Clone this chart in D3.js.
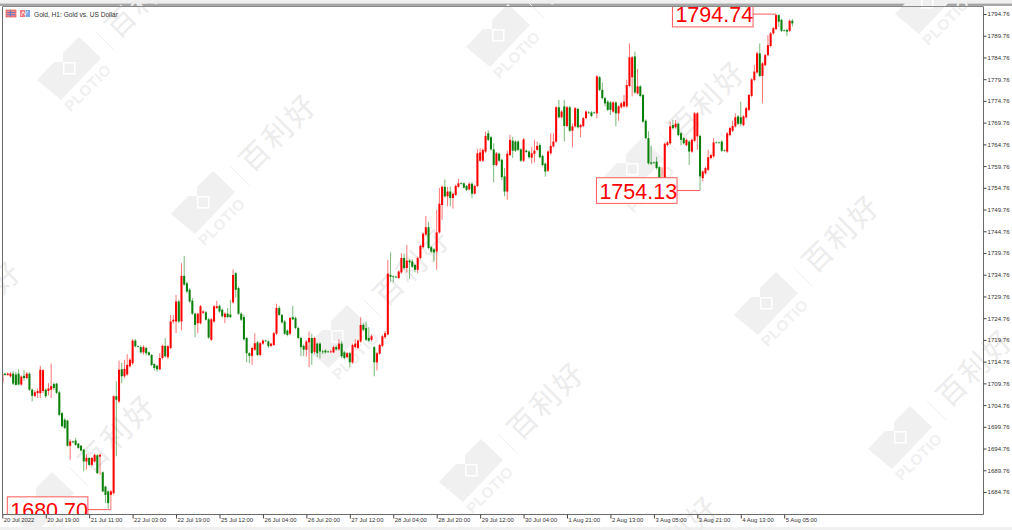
<!DOCTYPE html>
<html><head><meta charset="utf-8">
<style>html,body{margin:0;padding:0;background:#fff;overflow:hidden}svg{display:block}</style>
<script src="https://cdnjs.cloudflare.com/ajax/libs/d3/7.8.5/d3.min.js"></script>
</head><body><svg id="c" width="1012" height="530"></svg>
<script>
const opens = [
1710,1712,1711.7,1711.4,1712,1711.8,1712,1709.5,1711.5,1711,
1712,1708.3,1706.9,1707.5,1707.5,1708,1708.3,1708,1708.3,1709.6,
1709.7,1707.7,1702.9,1701.4,1701.2,1695.4,1696.4,1696.6,1695.9,1695.4,
1694.5,1691.8,1692.6,1691,1691.8,1693.2,1692.9,1689.3,1686,1684.9,
1684.1,1684.5,1706.8,1705.6,1713,1711.4,1711.8,1713.7,
1714.4,1719.6,1718.3,1718.1,1716.9,1717.9,1716.9,1716.3,1714.2,1713.8,
1713,1715.6,1718.4,1715.8,1717.9,1724,1724,1728.6,1724,1734.5,
1732.8,1731.3,1728.8,1725.8,1723.6,1723.6,1726,1726.1,1724.5,1719.8,
1724,1727.1,1727.6,1726.7,1725,1725.8,1725.6,1728.4,1735.1,1731.7,
1725.8,1725,1720.2,1716.7,1716.1,1717.5,1719.2,1716.3,1718.9,1719.6,
1719.4,1718.4,1718.6,1721.2,1727.1,1725.5,1724,1721.9,1721.2,1725,
1724.8,1722.5,1720.2,1718.4,1717.5,1719.2,1720.2,1717,1718.9,1718.9,
1717.1,1717.3,1717.1,1717,1716.9,1718.1,1717.6,1718.9,1716.9,1715.8,
1716.7,1714.6,1718.1,1717.9,1719.4,1723.2,1722.5,1720.2,1719.8,1718.1,
1714.6,1716.6,1718.4,1720.4,1721,
1734.7,1734.4,1734.3,1734,1735.3,1738.6,1736.3,1738,1737.8,1737,
1735.9,1738.6,1741.1,1744,1745.7,1741.1,1740.6,1740.1,1744.5,1750.8,
1755,1752.8,1753.9,1752.4,1753.1,1755,1755.8,1755.8,1755.2,1754.4,
1755.7,1753.4,1755.2,1761,1761,1763.1,1767.3,1766.4,1763.6,1760,
1762.6,1761.2,1757.4,1753.9,1762.3,1765.6,1765.4,1765.4,1763.6,1761,
1763.3,1763.1,1761.7,1762.6,1763.5,1764.6,1762.1,1760.3,1758.7,1762.7,
1764.3,1765.4,1773.3,1771,1773.5,1769,1773.3,1767.9,1768.9,1772.9,
1768.7,1769,1770.8,1772.1,1772.1,1772.1,1771.9,
1780.2,1777.3,1775.4,1774.6,1774.4,1772.3,1774.4,1771.9,1773.3,1773.5,
1773.5,1778.2,1780.2,1785,1776.5,1778.1,1776.1,1770.2,1766.2,1760.6,
1760.6,1760.8,1759.5,1756.2,1755.8,1764.6,1765,1769.2,1768.7,1769.5,
1767.3,1766.2,1764.6,1765.4,1763.1,1765.6,1766.6,1766.7,1757,1758.1,
1758.9,1761.6,1762,1765.2,1765.2,1765.4,1763.4,1763.1,1766.9,1767.9,
1768.9,1771.2,1771,1769.2,1771,1772.7,1775.9,1779.6,1781.3,1785.7,
1780.5,1783,1785.3,1787.4,1790.3,1791.3,1794.5,1793.4,1791,1791.1,
1790.9,1793.2];
const highs = [
1712.1,1712.2,1712.3,1712.4,1712.6,1712.4,1713,1711.6,1712.8,1712.4,
1712.3,1708.6,1708.2,1708.6,1713.8,1713,1708.6,1709.8,1714.3,1710,
1709.9,1708,1703.2,1701.8,1701.4,1696.9,1696.6,1697.2,1696.1,1695.6,
1694.7,1693.5,1692.8,1692.8,1693.6,1693.5,1693.6,1689.5,1686.2,1685.2,
1685.2,1707,1710.2,1715,1714.5,1715.2,1716.5,1715.6,
1719.9,1720,1718.5,1718.5,1718.5,1718.2,1717.1,1716.5,1714.4,1714,
1716.7,1718.7,1720.2,1718.6,1725.5,1725.5,1730.1,1729,1737.4,1739.1,
1733.2,1731.7,1729.4,1726,1726,1727.8,1726.6,1726.4,1724.8,1724.8,
1727.8,1728.8,1727.9,1727,1726.1,1727.1,1729,1736,1735.4,1732,
1726.1,1725.6,1720.4,1717,1718.2,1721.3,1719.5,1719.3,1719.9,1719.8,
1719.7,1719.1,1721.6,1728.1,1727.6,1725.8,1724.3,1722.2,1725,1727.6,
1725.1,1722.8,1720.5,1718.7,1719.7,1721.7,1721.2,1720.5,1719.2,1719.2,
1717.5,1717.6,1717.3,1717.4,1718.4,1718.5,1719.9,1719.5,1717.2,1717,
1717,1718.9,1719.9,1719.9,1725,1723.6,1724,1722.7,1721,1718.4,
1717,1718.9,1720.9,1721.8,1738.2,
1739.9,1734.6,1734.5,1735.8,1739.7,1739.6,1741.6,1738.3,1738.3,1737.3,
1738.9,1741.7,1744.5,1748.3,1746.9,1741.4,1740.9,1749.7,1754.7,1755.3,
1756.7,1755,1755,1753.7,1755.5,1756.8,1756,1756,1755.4,1756,
1756,1755.5,1763.7,1763.9,1763.8,1767.7,1768,1766.7,1765,1763,
1762.9,1761.5,1759.3,1763.3,1767,1766.5,1765.7,1765.7,1763.9,1766.2,
1763.6,1763.4,1764.1,1765.8,1765.4,1765,1762.4,1760.6,1763.4,1767.3,
1767.3,1773.6,1775,1772.6,1775,1773.6,1773.6,1769.6,1773.4,1773.2,
1769.5,1771.1,1772.6,1772.4,1772.4,1772.3,1780.7,
1780.5,1779,1775.7,1774.9,1774.7,1774.7,1774.7,1773.8,1774.5,1776.1,
1779.6,1788,1785.1,1786.1,1782.1,1778.4,1776.4,1770.5,1767.8,1764.5,
1760.8,1761.9,1759.8,1759.5,1765.2,1765.5,1770,1770.4,1770.4,1769.8,
1767.6,1766.5,1766.1,1765.7,1766.1,1772.2,1772.2,1767,1758.8,1759.6,
1763.5,1762.6,1766.2,1765.4,1765.4,1765.7,1763.6,1767.6,1768.8,1770.2,
1771.9,1771.5,1774.6,1771.5,1773.4,1776.4,1780,1783,1786.1,1788,
1783.7,1785.6,1789.9,1790.6,1791.8,1794.74,1794.7,1793.7,1791.2,1791.4,
1793.5,1793.6];
const lows = [
1709.9,1711.5,1711.5,1711.1,1709.4,1709.3,1709.3,1709.2,1710.4,1710.7,
1708,1705.6,1706.6,1706.4,1706.4,1707.5,1706.4,1707,1706.4,1708.2,
1707.3,1702.2,1699.6,1699.2,1695.2,1692.2,1696,1695.4,1694.7,1694.1,
1689.5,1689.9,1690.8,1690.6,1691.5,1688.9,1688.7,1684.7,1682.2,1680.9,
1680.7,1684.2,1693,1705.2,1709.8,1711,1711.5,1713.4,
1714,1718,1718,1716.6,1716.4,1716.2,1716,1713.7,1712.7,1712.4,
1712.8,1715.3,1715.7,1715.3,1717.6,1723.5,1721.3,1723.6,1722,1732.2,
1730.5,1728.3,1725.5,1720.4,1721.3,1723.3,1725.7,1724.2,1720,1719.5,
1723.7,1726.9,1726,1724.9,1723.6,1724.8,1724.8,1728.1,1729.5,1725.5,
1724.1,1719.6,1714.6,1714.4,1714,1717.2,1716,1716,1718.6,1719.3,
1717.9,1718.1,1718.4,1720.9,1725.3,1723.5,1720.9,1720.6,1720.9,1724.3,
1722.2,1719.9,1716,1716,1715.9,1713.5,1714,1716.5,1715.8,1715.5,
1716.5,1716.6,1716.8,1716.7,1716.7,1717.3,1717.3,1715.6,1715.3,1715.5,
1713.5,1714.3,1717.8,1717.6,1719.1,1721.8,1719.5,1719.3,1719.4,1711.4,
1712.7,1716.3,1718.1,1720,1720.8,
1733.2,1733,1734,1733.8,1735,1736,1735.3,1733.8,1736.3,1735.3,
1735.1,1738.3,1740.8,1743.7,1740.6,1739.8,1737.8,1735.9,1744.2,1747.4,
1752.5,1750.5,1750.5,1750,1752.9,1754.8,1755.5,1754.6,1754,1754.2,
1752.4,1753.2,1754.9,1760.7,1760.7,1762.8,1765.5,1763.3,1756,1759.7,
1760.7,1756.5,1752.8,1752,1762,1761.6,1763,1763.2,1760.7,1760.7,
1762.8,1761.5,1760.3,1760.6,1763.2,1761.5,1759.7,1757.3,1758.4,1762.4,
1764,1765.1,1770.7,1770.7,1765.4,1768.7,1767.6,1764.1,1768.6,1768.4,
1766.4,1768.7,1770.5,1771.8,1771,1771.8,1770.8,
1777,1775.1,1773.5,1772.4,1771.5,1772,1768.9,1770.2,1773,1773.2,
1773.2,1777.9,1775.8,1776.4,1776.2,1775.6,1769.7,1765.9,1760.1,1760,
1760.3,1759,1755.8,1755.9,1755.5,1764.3,1764.7,1768.2,1768.4,1766.6,
1764.5,1764.7,1764.3,1760,1762.8,1765.3,1763.5,1754.13,1756.2,1757.8,
1758.6,1761.3,1761.7,1765,1765,1763,1763.1,1762.8,1766.6,1767.6,
1768.6,1769.2,1768.9,1768.9,1770.7,1772.4,1775.6,1779.3,1781,1780.2,
1774.2,1782.7,1785,1787.1,1790,1791,1791.8,1790.6,1790.7,1789.7,
1790.6,1791.9];
const closes = [
1712,1711.7,1712,1712,1709.7,1709.4,1709.5,1711.3,1711,1712,
1708.3,1706.9,1707.7,1708,1712.9,1712.8,1706.8,1708.6,1709.1,1708.7,
1707.6,1702.5,1699.9,1699.5,1695.4,1696.4,1696.2,1695.6,1694.9,1694.3,
1691.8,1692.6,1691,1692.6,1693.3,1689.1,1693.3,1684.9,1684.1,1682.2,
1684.9,1706.8,1706,1712.9,1711.4,1713.1,1714,1715.2,
1719.6,1718.3,1718.2,1716.9,1718.1,1716.7,1716.3,1714,1713.3,1713,
1715.6,1718.4,1716,1718.3,1724,1724.4,1728.6,1724,1734.5,1732.5,
1730.9,1728.6,1725.8,1723.2,1725.8,1727.5,1726.3,1724.4,1720.3,1724.5,
1727.5,1727.5,1726.3,1725.2,1725.8,1725,1725,1734.7,1731.3,1725.8,
1724.4,1719.9,1716.7,1716.1,1717.9,1719,1716.3,1719,1719.6,1719.5,
1718.3,1718.9,1721.3,1727.1,1725.5,1723.8,1721.2,1720.9,1724.8,1724.5,
1722.5,1720.2,1718.1,1717.5,1719.4,1720.2,1716.7,1720.2,1716.7,1717.1,
1717,1716.9,1717,1717.1,1718.1,1717.6,1718.9,1716,1715.6,1716.7,
1714.6,1718.6,1718.9,1719.6,1723.2,1722.1,1719.8,1719.6,1720.6,1714.6,
1716.7,1718.6,1720.6,1721.3,1735,
1734.3,1734.2,1734.2,1735.5,1738.6,1736.3,1738,1737.6,1736.6,1735.9,
1738.6,1741.4,1744.2,1745.7,1740.9,1740.1,1739.9,1744.5,1751.1,1755,
1752.8,1753.9,1752.4,1753.4,1755.2,1755.8,1755.7,1754.8,1754.3,1755.7,
1753.4,1755.2,1762.7,1762.9,1763.5,1766.7,1765.8,1763.6,1760,1762.7,
1761,1757.2,1753.9,1762.6,1765.8,1763.3,1763.3,1763.5,1761,1765.9,
1763,1761.8,1762.7,1763.3,1764.4,1761.8,1760,1758.5,1763.1,1764.4,
1765.4,1773.3,1771,1772.3,1769,1773.3,1767.9,1768.9,1773.1,1768.7,
1769.2,1770.8,1772.3,1772,1771.3,1772,1780.4,
1777.3,1775.4,1774.2,1772.7,1772.7,1774.4,1771.9,1773.5,1774.2,1774.6,
1778.4,1784.8,1784.8,1776.7,1778.1,1775.9,1770,1766.2,1760.4,1760.3,
1760.5,1759.3,1756.2,1757,1764.9,1765.2,1768.9,1768.5,1769.5,1766.9,
1765.8,1765,1765.8,1763.1,1765.8,1771.9,1771.9,1757.4,1758.5,1759.3,
1761.8,1762.3,1765.2,1765.1,1765.1,1763.3,1763.3,1767.3,1768.5,1769,
1771,1769.5,1769.5,1771.2,1773.1,1776.1,1779.7,1781.5,1785.7,1780.5,
1783.4,1785.3,1787.6,1790.3,1791.5,1794.5,1793,1790.9,1790.9,1790.7,
1793.2,1792.6];
const timeLabels = ["20 Jul 2022","20 Jul 19:00","21 Jul 11:00","22 Jul 03:00","22 Jul 19:00","25 Jul 12:00","26 Jul 04:00","26 Jul 20:00","27 Jul 12:00","28 Jul 04:00","28 Jul 20:00","29 Jul 12:00","30 Jul 04:00","1 Aug 21:00","2 Aug 13:00","3 Aug 05:00","3 Aug 21:00","4 Aug 13:00","5 Aug 05:00"];
const timeTickIndex = timeLabels.map((_, k) => k * 16);
const priceTicks = ["1794.76","1789.76","1784.76","1779.76","1774.76","1769.76","1764.76","1759.76","1754.76","1749.76","1744.76","1739.76","1734.76","1729.76","1724.76","1719.76","1714.76","1709.76","1704.76","1699.76","1694.76","1689.76","1684.76"];
const title = "Gold, H1:  Gold vs. US Dollar";
const markIndex = [285, 257, 40];
const markPrice = [1794.74, 1754.13, 1680.70];
const markText = ["1794.74", "1754.13", "1680.70"];
const wmMain = "百利好", wmBrand = "PLOTIO";

const svg = d3.select("#c");
const frame = {l: 2.5, r: 983.5, t: 6.5, b: 514.5};
const x = d3.scaleLinear().domain([0, 288]).range([2.3, 784.2]);
const y = d3.scaleLinear().domain([1684.76, 1794.76]).range([492, 14]);
const UP = "#ff0000", DOWN = "#0a800a", BOX = "#ff5a5a";

svg.append("rect").attr("width", 1012).attr("height", 530).attr("fill", "#fff");
// window chrome
svg.append("rect").attr("x", 0).attr("y", 0).attr("width", 1012).attr("height", 3).attr("fill", "#f0f0f0");
svg.append("rect").attr("x", 0).attr("y", 3.5).attr("width", 1012).attr("height", 2.5).attr("fill", "#a6a6a6");
svg.append("rect").attr("x", 0).attr("y", 527).attr("width", 1012).attr("height", 3).attr("fill", "#f0f0f0");

const defs = svg.append("defs");
defs.append("clipPath").attr("id", "plot").append("rect")
  .attr("x", frame.l).attr("y", frame.t).attr("width", frame.r - frame.l).attr("height", frame.b - frame.t);

// watermark
const wm = svg.append("g");
const WM = "#f0f0f0";
const anchors = [];
for (let m = -2; m <= 2; m++) for (let n = -2; n <= 5; n++) {
  const ax = 203 + m * 429 + n * 134, ay = 202 - m * 33 + n * 134;
  if (ax > -120 && ax < 1110 && ay > -100 && ay < 620) anchors.push([ax, ay]);
}
const cell = wm.selectAll("g").data(anchors).join("g").attr("transform", d => `translate(${d[0]},${d[1]})`);
cell.append("path").attr("fill", WM).attr("d", "M10,-31 L32,-10 L-8,32 L-32,12 L-15,-6 L-6,-6 L-6,-15 Z");
cell.append("rect").attr("x", -6).attr("y", -6).attr("width", 12.5).attr("height", 12.5).attr("fill", "#fff");
cell.append("rect").attr("x", -4.5).attr("y", -4.5).attr("width", 9.5).attr("height", 9.5).attr("fill", WM);
cell.append("text").attr("transform", "translate(19,20) rotate(-45)").attr("text-anchor", "middle").attr("y", 5)
  .attr("font-family", "'Liberation Sans',sans-serif").attr("font-weight", 700).attr("font-size", 15).attr("letter-spacing", 0.6)
  .attr("fill", WM).text(wmBrand);
cell.append("line").attr("x1", 27).attr("y1", -36).attr("x2", 46).attr("y2", -17).attr("stroke", WM).attr("stroke-width", 1);
cell.append("text").attr("transform", "translate(75,-70) rotate(-45)").attr("text-anchor", "middle").attr("y", 11)
  .attr("font-family", "'Noto Sans CJK SC',sans-serif").attr("font-weight", 400).attr("font-size", 29).attr("letter-spacing", 3)
  .attr("fill", "#ececec").text(wmMain);

// candles
const plot = svg.append("g").attr("clip-path", "url(#plot)");
const idx = d3.range(opens.length);
const col = i => closes[i] >= opens[i] ? UP : DOWN;
plot.append("g").selectAll("line").data(idx).join("line")
  .attr("x1", x).attr("x2", x)
  .attr("y1", i => y(highs[i])).attr("y2", i => y(lows[i]))
  .attr("stroke", col).attr("stroke-width", 0.55);
plot.append("g").selectAll("rect").data(idx).join("rect")
  .attr("x", i => x(i) - 1.02).attr("width", 2.04)
  .attr("y", i => y(Math.max(opens[i], closes[i])))
  .attr("height", i => Math.max(0.7, Math.abs(y(opens[i]) - y(closes[i]))))
  .attr("fill", col);

// price labels
const BW = 80.6, BH = 25.6, GAP = 23;
const mk = plot.append("g").selectAll("g").data(markIndex.map((m, k) => k)).join("g");
mk.append("rect")
  .attr("x", k => x(markIndex[k]) - GAP - BW).attr("y", k => y(markPrice[k]) - BH / 2)
  .attr("width", BW).attr("height", BH).attr("fill", "#fff").attr("stroke", BOX).attr("stroke-width", 1);
mk.append("line")
  .attr("x1", k => x(markIndex[k]) - GAP).attr("x2", k => x(markIndex[k]))
  .attr("y1", k => y(markPrice[k])).attr("y2", k => y(markPrice[k]))
  .attr("stroke", BOX).attr("stroke-width", 1);
mk.append("text")
  .attr("x", k => x(markIndex[k]) - GAP - BW / 2 + 1.5).attr("y", k => y(markPrice[k]) + 8)
  .attr("text-anchor", "middle").attr("font-family", "'Liberation Sans',Arial,sans-serif")
  .attr("font-size", 21.5).attr("fill", "#ff0000").text(k => markText[k]);

// frame
svg.append("path").attr("fill", "none").attr("stroke", "#6a6a6a").attr("stroke-width", 1)
  .attr("d", `M${frame.l},${frame.t}V${frame.b}H${frame.r}V${frame.t}`);
svg.append("line").attr("x1", frame.l).attr("x2", frame.r).attr("y1", frame.t).attr("y2", frame.t).attr("stroke", "#8a8a8a");

// axes
const FONT = "'Liberation Sans',Arial,sans-serif";
const yAxis = d3.axisRight(y).tickValues(priceTicks.map(Number)).tickFormat((d, i) => priceTicks[i]).tickSize(3).tickPadding(1);
const ya = svg.append("g").attr("transform", `translate(${frame.r},0)`).call(yAxis);
ya.select(".domain").remove();
ya.selectAll("line").attr("stroke", "#444");
ya.selectAll("text").attr("font-family", FONT).attr("font-size", 6.1).attr("fill", "#333");

const xAxis = d3.axisBottom(x).tickValues(timeTickIndex).tickFormat((d, i) => timeLabels[i]).tickSize(4).tickPadding(1);
const xa = svg.append("g").attr("transform", `translate(0,${frame.b})`).call(xAxis);
xa.select(".domain").remove();
xa.selectAll("line").attr("stroke", "#444");
xa.selectAll("text").attr("font-family", FONT).attr("font-size", 5.9).attr("fill", "#333")
  .attr("text-anchor", "start").attr("dx", 1).attr("y", 3);

// title + icons
svg.append("text").attr("x", 34).attr("y", 16.5).attr("font-family", FONT).attr("font-size", 6.6).attr("fill", "#333").text(title);
const icons = svg.append("g");
icons.append("rect").attr("x", 6).attr("y", 10).attr("width", 10).attr("height", 7).attr("fill", "#f08a8a").attr("stroke", "#d84040").attr("stroke-width", .6);
icons.append("path").attr("d", "M7,12.5H15M7,14.8H15M10.5,10.5V16.5").attr("stroke", "#5a78c8").attr("stroke-width", .9);
icons.append("rect").attr("x", 20).attr("y", 10).attr("width", 5).attr("height", 7).attr("fill", "#ee7a7a");
icons.append("rect").attr("x", 25.5).attr("y", 10).attr("width", 4.5).attr("height", 7).attr("fill", "#7aa8e8");
icons.append("path").attr("d", "M21,16L23,11.5L25,15L28,11").attr("stroke", "#fff").attr("stroke-width", .8).attr("fill", "none");
</script></body></html>
